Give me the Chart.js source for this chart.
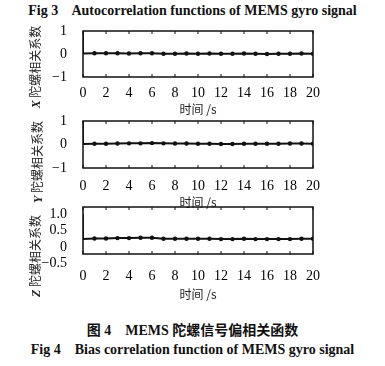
<!DOCTYPE html>
<html>
<head>
<meta charset="utf-8">
<script src="https://cdn.jsdelivr.net/npm/chart.js@4/dist/chart.umd.min.js"></script>
<style>
  body { margin: 0; background: #fff; }
  #page { position: relative; width: 385px; height: 366px; overflow: hidden; background: #fff; }
  .panel { position: absolute; left: 0; width: 330px; }
  .cap { position: absolute; left: 0; width: 385px; text-align: center; color: #111;
         font-family: "Liberation Serif", "Noto Sans CJK SC", serif; font-weight: bold; white-space: pre; }
  .ytitle { position: absolute; color: #222; font-family: "Noto Sans CJK SC", sans-serif; font-size: 12px;
            white-space: pre; transform: translate(-50%, -50%) rotate(-90deg); }
  .ytitle i { font-family: "Liberation Serif", serif; font-weight: bold; }
</style>
</head>
<body>
<div id="page">
  <div class="cap" style="top:3px; font-size:14px;">Fig 3    Autocorrelation functions of MEMS gyro signal</div>

  <div class="panel" style="top:13px; height:104px;"><canvas id="chart-x"></canvas></div>
  <div class="panel" style="top:103px; height:107px;"><canvas id="chart-y"></canvas></div>
  <div class="panel" style="top:189px; height:113px;"><canvas id="chart-z"></canvas></div>

  <div class="ytitle" style="left:35px; top:67px;"><i>X</i> 陀螺相关系数</div>
  <div class="ytitle" style="left:37px; top:162px;"><i>Y</i> 陀螺相关系数</div>
  <div class="ytitle" style="left:35px; top:256px;"><i>Z</i> 陀螺相关系数</div>

  <div class="cap" style="top:319px; font-size:14px;">图 4    MEMS 陀螺信号偏相关函数</div>
  <div class="cap" style="top:342px; font-size:14px;">Fig 4    Bias correlation function of MEMS gyro signal</div>
</div>

<script>
// lag (s) - the first two samples both sit at 0 s to draw the spike
const lags = [0, 0, 1, 2, 3, 4, 5, 6, 7, 8, 9, 10, 11, 12, 13, 14, 15, 16, 17, 18, 19, 20];

// correlation coefficients
const xCorr = [1, 0.02, 0.03, 0.03, 0.03, 0.02, 0.03, 0.03, 0.01, 0.01, 0.02, 0.01, 0.02, 0.01, 0.01, 0.02, 0.01, 0.0, 0.01, 0.01, 0.02, 0.01];
const yCorr = [1, 0.02, 0.03, 0.03, 0.04, 0.05, 0.05, 0.06, 0.05, 0.04, 0.04, 0.03, 0.03, 0.02, 0.02, 0.03, 0.03, 0.03, 0.03, 0.04, 0.04, 0.03];
const zCorr = [1, 0.24, 0.26, 0.26, 0.27, 0.27, 0.28, 0.28, 0.25, 0.25, 0.25, 0.25, 0.25, 0.24, 0.24, 0.25, 0.24, 0.24, 0.24, 0.24, 0.25, 0.25];

// y tick values for each panel
const xyTicks = [-1, 0, 1];
const zTicks = [-0.5, 0, 0.5, 1.0];
const zTickLabels = ['\u22120.5', '0', '0.5', '1.0'];

const xTitle = '时间 /s';

// box around the plot area + small inward ticks on the time axis
const framePlugin = {
    id: 'frame',
    afterDraw(chart) {
        const { ctx, chartArea: a, scales } = chart;
        ctx.save();
        ctx.strokeStyle = '#111';
        ctx.lineWidth = 1.5;
        ctx.strokeRect(a.left, a.top, a.right - a.left, a.bottom - a.top);
        ctx.lineWidth = 1;
        scales.x.ticks.forEach(t => {
            const px = scales.x.getPixelForValue(t.value);
            ctx.beginPath();
            ctx.moveTo(px, a.bottom); ctx.lineTo(px, a.bottom - 3);
            ctx.moveTo(px, a.top); ctx.lineTo(px, a.top + 3);
            ctx.stroke();
        });
        ctx.restore();
    }
};

function makeChart(id, values, yOpts, tickPad, axisHeight) {
    const ctx = document.getElementById(id).getContext('2d');
    return new Chart(ctx, {
        type: 'line',
        data: {
            datasets: [{
                data: lags.map((t, i) => ({ x: t, y: values[i] })),
                borderColor: '#111',
                backgroundColor: '#111',
                borderWidth: 2,
                pointRadius: lags.map((t, i) => (i < 2 ? 0 : 1.2)),
                tension: 0,
            }],
        },
        options: {
            responsive: true,
            maintainAspectRatio: false,
            animation: false,
            layout: { padding: { top: 18, right: 17, left: 0, bottom: 0 } },
            plugins: { legend: { display: false }, tooltip: { enabled: false } },
            scales: {
                x: {
                    type: 'linear',
                    min: 0, max: 20,
                    grid: { display: false },
                    border: { display: false },
                    afterFit(scale) { scale.height = axisHeight; },
                    ticks: {
                        stepSize: 2,
                        padding: tickPad,
                        color: '#000',
                        font: { family: 'Liberation Serif', size: 14 },
                        maxRotation: 0,
                        autoSkip: false,
                    },
                    title: {
                        display: true,
                        text: xTitle,
                        color: '#222',
                        padding: { top: 0, bottom: 0 },
                        font: { family: 'Noto Sans CJK SC', size: 12 },
                    },
                },
                y: Object.assign({
                    grid: { display: false },
                    border: { display: false },
                    afterFit(scale) { scale.width = 83; },
                }, yOpts),
            },
        },
        plugins: [framePlugin],
    });
}

const yFont = { family: 'Liberation Serif', size: 14 };

makeChart('chart-x', xCorr, {
    min: -1, max: 1,
    afterBuildTicks(scale) { scale.ticks = xyTicks.map(v => ({ value: v })); },
    ticks: { autoSkip: false, padding: 8, color: '#000', font: yFont, callback: v => (v < 0 ? '\u2212' + Math.abs(v) : String(v)) },
}, 0, 40);

makeChart('chart-y', yCorr, {
    min: -1, max: 1,
    afterBuildTicks(scale) { scale.ticks = xyTicks.map(v => ({ value: v })); },
    ticks: { autoSkip: false, padding: 8, color: '#000', font: yFont, callback: v => (v < 0 ? '\u2212' + Math.abs(v) : String(v)) },
}, 2, 42);

makeChart('chart-z', zCorr, {
    min: -0.21, max: 1.21,
    afterBuildTicks(scale) { scale.ticks = zTicks.map(v => ({ value: v })); },
    ticks: { autoSkip: false, padding: 8, color: '#000', font: yFont, callback: (v, i) => zTickLabels[i] },
}, 6, 48);
</script>
</body>
</html>
